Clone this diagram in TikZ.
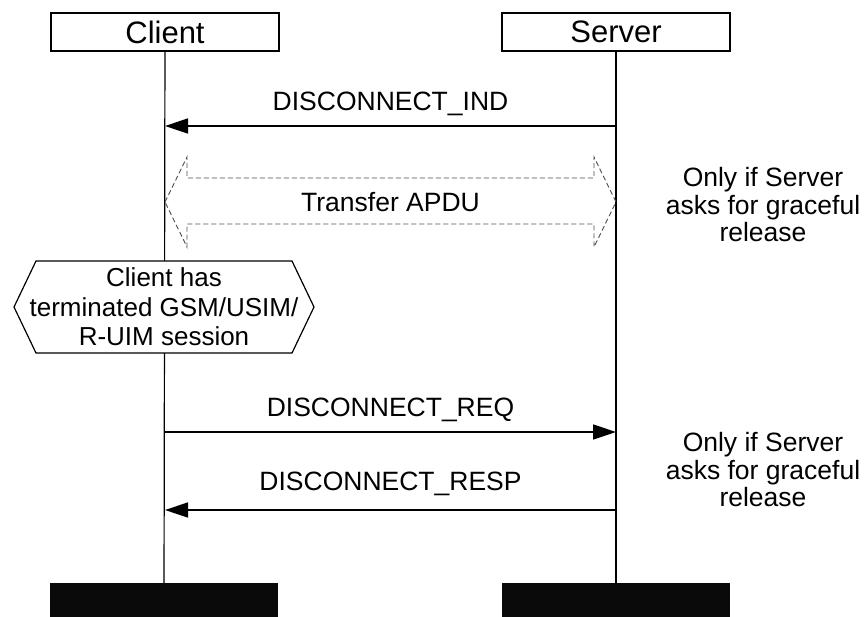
\documentclass[tikz,border=0pt]{standalone}
\usepackage{fontspec}
\setmainfont{Liberation Sans}
\usetikzlibrary{positioning, arrows.meta}
\tikzset{
  >={Triangle[length=23pt, width=15pt]}, % solid message heads
  entity/.style={draw, line width=1.5pt, minimum width=228pt, minimum height=38pt, inner sep=0pt, font=\fontsize{31}{34}\selectfont}, % the two parties
  stopbar/.style={fill=black!96, minimum width=228pt, minimum height=34pt, inner sep=0pt}, % end of a lifeline
  lifeline/.style={line width=1.2pt},
  msg/.style={->, line width=1.5pt},
  msglabel/.style={above=9pt, inner sep=0pt, font=\fontsize{26.5}{29}\selectfont},
  apdu/.style={draw=black!70, dashed, dash pattern=on 5pt off 3pt, line width=0.9pt},
  hexnote/.style={align=center, inner sep=0pt, font=\fontsize{26}{29.5}\selectfont},
  sidenote/.style={align=center, inner sep=0pt, font=\fontsize{26.5}{27.5}\selectfont},
}
\begin{document}
\begin{tikzpicture}[x=1pt, y=-1pt]
  \useasboundingbox (0,0) rectangle (867,616);

  % parties and lifelines
  \node[entity] (client) at (165,32) {Client};
  \node[entity] (server) at (616,32) {Server};
  \node[stopbar] (clientstop) at (164,600) {};
  \node[stopbar] (serverstop) at (616,600) {};
  \draw[lifeline] (client) -- (clientstop);
  \draw[lifeline] (server) -- (serverstop);

  % points on the lifelines
  \coordinate (indS) at (616,126);
  \coordinate (indC) at (165,126);
  \coordinate (apduC) at (165,202);
  \coordinate (apduS) at (616,202);
  \coordinate (reqC) at (165,432);
  \coordinate (reqS) at (616,432);
  \coordinate (respS) at (616,510);
  \coordinate (respC) at (165,510);

  \draw[msg] (indS) -- node[msglabel] (indlabel) {DISCONNECT\_IND} (indC);

  % optional transfer
  \draw[apdu] (apduC) -- ++(22,-45) -- ++(0,21) -- ++(407,0) -- ++(0,-21) -- (apduS)
    -- ++(-22,45) -- ++(0,-23) -- ++(-407,0) -- ++(0,23) -- cycle;
  \node[msglabel, above=0pt, anchor=center] (apdulabel) at (390.5,202) {Transfer APDU};
  \node[sidenote] (note1) at (763,205) {Only if Server\\asks for graceful\\release};

  % client state
  \node[hexnote] (term) at (164,307) {\phantom{X}};
  \draw[lifeline, fill=white] ([shift={(-150pt,0pt)}]term.center) -- ([shift={(-128pt,46pt)}]term.center)
    -- ([shift={(128pt,46pt)}]term.center) -- ([shift={(150pt,0pt)}]term.center)
    -- ([shift={(128pt,-46pt)}]term.center) -- ([shift={(-128pt,-46pt)}]term.center) -- cycle;
  \node[hexnote] (termtext) at (term) {Client has\\terminated GSM/USIM/\\R-UIM session};

  \draw[msg] (reqC) -- node[msglabel] (reqlabel) {DISCONNECT\_REQ} (reqS);
  \draw[msg] (respS) -- node[msglabel, above=13pt] (resplabel) {DISCONNECT\_RESP} (respC);
  \node[sidenote] (note2) at (763,470) {Only if Server\\asks for graceful\\release};
\end{tikzpicture}
\end{document}
